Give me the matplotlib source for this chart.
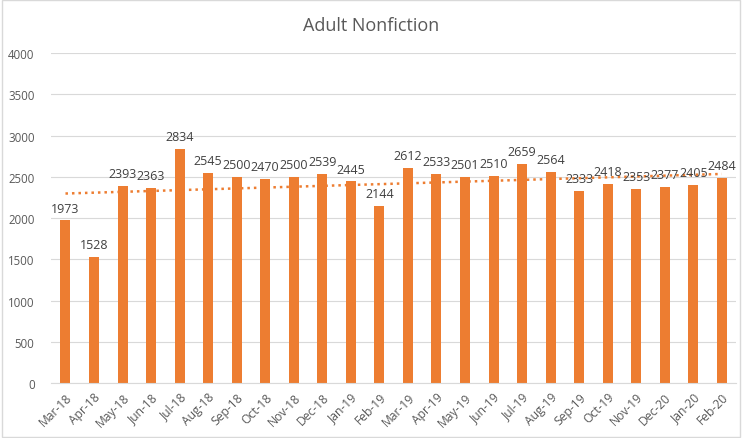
import matplotlib
matplotlib.use('Agg')
import matplotlib.pyplot as plt
import numpy as np

months = ['Mar-18', 'Apr-18', 'May-18', 'Jun-18', 'Jul-18', 'Aug-18', 'Sep-18', 'Oct-18',
          'Nov-18', 'Dec-18', 'Jan-19', 'Feb-19', 'Mar-19', 'Apr-19', 'May-19', 'Jun-19',
          'Jul-19', 'Aug-19', 'Sep-19', 'Oct-19', 'Nov-19', 'Dec-20', 'Jan-20', 'Feb-20']
counts = [1973, 1528, 2393, 2363, 2834, 2545, 2500, 2470, 2500, 2539, 2445, 2144,
          2612, 2533, 2501, 2510, 2659, 2564, 2333, 2418, 2353, 2377, 2405, 2484]

orange = '#ED7D31'
plt.rcParams['font.family'] = ['Open Sans', 'DejaVu Sans']

fig = plt.figure(figsize=(7.42, 4.39), dpi=100)
fig.patch.set_facecolor('white')
ax = fig.add_axes([0.069, 0.125, 0.923, 0.752])

x = np.arange(len(counts))
ax.bar(x, counts, width=0.35, color=orange, zorder=2)

# linear trendline
slope, intercept = np.polyfit(x, counts, 1)
ax.plot(x, slope * x + intercept, linestyle=(0, (1, 1.6)), color=orange,
        linewidth=1.8, zorder=3)

for xi, v in zip(x, counts):
    ax.text(xi, v + 70, str(v), ha='center', va='bottom', fontsize=9,
            color='#404040', zorder=4)

ax.set_xlim(-0.5, len(counts) - 0.5)
ax.set_ylim(0, 4000)
ax.set_yticks(range(0, 4001, 500))
ax.set_xticks(x)
ax.set_xticklabels(months, rotation=45, ha='right', rotation_mode='anchor',
                   fontsize=8.7, color='#595959')
ax.tick_params(axis='y', labelsize=8.3, colors='#595959', length=0, pad=12)
ax.tick_params(axis='x', length=0, pad=5)
for s in ['top', 'right', 'left']:
    ax.spines[s].set_visible(False)
ax.spines['bottom'].set_color('#d9d9d9')
ax.yaxis.grid(True, color='#d9d9d9', linewidth=0.8, zorder=0)
ax.set_axisbelow(True)

fig.text(0.5, 0.94, 'Adult Nonfiction', ha='center', va='center', fontsize=13,
         color='#595959')

fig.add_artist(plt.Rectangle((0.003, 0.003), 0.994, 0.994, transform=fig.transFigure,
                             fill=False, edgecolor='#d9d9d9', linewidth=1))

fig.savefig('out.png', dpi=100)
